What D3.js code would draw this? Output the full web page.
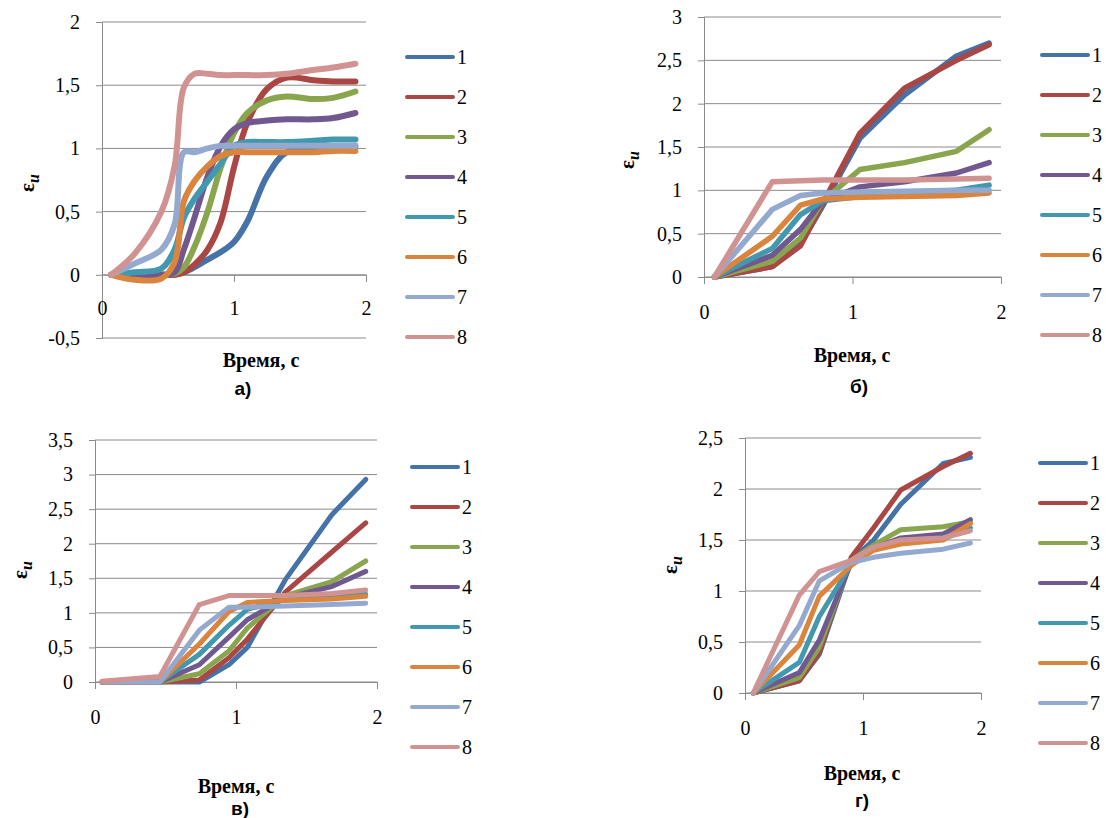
<!DOCTYPE html>
<html>
<head>
<meta charset="utf-8">
<script src="https://cdnjs.cloudflare.com/ajax/libs/d3/7.8.5/d3.min.js"></script>
<style>
body { margin: 0; background: #fff; }
</style>
</head>
<body>
<div id="canvas"></div>
<script>
var w = 1106;
var h = 818;

var seriesNames = ["1", "2", "3", "4", "5", "6", "7", "8"];
var colors = ["#4572a7", "#aa4643", "#89a54e", "#71588f", "#4198af", "#db843d", "#93a9cf", "#d19392"];
var xTicks = [0, 1, 2];

// панель а) - сглаженные линии
var timeA = [0.07, 0.25, 0.45, 0.55, 0.62, 0.7, 0.8, 0.9, 1.0, 1.1, 1.25, 1.4, 1.6, 1.75, 1.92];
var epsA = [
    [0, 0, 0, 0, 0.02, 0.06, 0.12, 0.18, 0.26, 0.42, 0.78, 0.97, 0.99, 1.0, 1.02],
    [0, 0, 0, 0, 0.02, 0.08, 0.2, 0.42, 0.85, 1.2, 1.47, 1.56, 1.54, 1.53, 1.53],
    [0, 0, 0, 0.01, 0.06, 0.22, 0.5, 0.85, 1.12, 1.28, 1.38, 1.41, 1.39, 1.4, 1.45],
    [0, 0, 0, 0.02, 0.2, 0.45, 0.78, 1.02, 1.15, 1.2, 1.22, 1.23, 1.23, 1.24, 1.28],
    [0, 0.02, 0.05, 0.2, 0.45, 0.6, 0.74, 0.88, 1.02, 1.05, 1.05, 1.05, 1.06, 1.07, 1.07],
    [0, -0.04, -0.03, 0.1, 0.58, 0.74, 0.86, 0.94, 0.97, 0.97, 0.97, 0.97, 0.97, 0.98, 0.98],
    [0, 0.09, 0.2, 0.4, 0.97, 0.97, 1.0, 1.02, 1.02, 1.02, 1.02, 1.02, 1.02, 1.02, 1.02],
    [0, 0.17, 0.5, 0.86, 1.48, 1.59, 1.59, 1.58, 1.58, 1.58, 1.58, 1.59, 1.62, 1.64, 1.67]
];
var yTicksA = [-0.5, 0, 0.5, 1, 1.5, 2];

// панель б)
var timeB = [0.07, 0.46, 0.65, 0.8, 1.05, 1.35, 1.7, 1.92];
var epsB = [
    [0, 0.12, 0.38, 0.82, 1.6, 2.1, 2.55, 2.7],
    [0, 0.12, 0.36, 0.85, 1.66, 2.18, 2.5, 2.68],
    [0, 0.18, 0.45, 0.88, 1.24, 1.32, 1.45, 1.7],
    [0, 0.25, 0.55, 0.88, 1.04, 1.1, 1.2, 1.32],
    [0, 0.33, 0.72, 0.88, 0.93, 0.96, 1.0, 1.06],
    [0, 0.47, 0.83, 0.9, 0.92, 0.93, 0.94, 0.97],
    [0, 0.78, 0.94, 0.97, 0.98, 0.99, 1.0, 1.0],
    [0, 1.1, 1.11, 1.12, 1.12, 1.12, 1.13, 1.14]
];
var yTicksB = [0, 0.5, 1, 1.5, 2, 2.5, 3];

// панель в)
var timeC = [0.05, 0.46, 0.74, 0.95, 1.08, 1.35, 1.68, 1.92];
var epsC = [
    [0, 0, 0, 0.25, 0.5, 1.48, 2.42, 2.93],
    [0, 0, 0.03, 0.35, 0.62, 1.3, 1.88, 2.3],
    [0, 0, 0.12, 0.45, 0.78, 1.25, 1.45, 1.75],
    [0, 0, 0.25, 0.65, 0.9, 1.22, 1.38, 1.6],
    [0, 0, 0.4, 0.82, 1.05, 1.2, 1.24, 1.27],
    [0, 0, 0.55, 1.02, 1.15, 1.18, 1.2, 1.24],
    [0, 0, 0.75, 1.08, 1.08, 1.1, 1.12, 1.14],
    [0.01, 0.08, 1.12, 1.25, 1.25, 1.25, 1.28, 1.33]
];
var yTicksC = [0, 0.5, 1, 1.5, 2, 2.5, 3, 3.5];

// панель г)
var timeD = [0.07, 0.46, 0.63, 0.9, 1.09, 1.32, 1.68, 1.91];
var epsD = [
    [0, 0.12, 0.38, 1.3, 1.5, 1.85, 2.25, 2.31],
    [0, 0.12, 0.4, 1.33, 1.62, 1.99, 2.22, 2.35],
    [0, 0.15, 0.45, 1.3, 1.45, 1.6, 1.63, 1.68],
    [0, 0.2, 0.52, 1.28, 1.42, 1.52, 1.56, 1.7],
    [0, 0.3, 0.75, 1.26, 1.42, 1.5, 1.52, 1.62],
    [0, 0.47, 0.95, 1.25, 1.4, 1.46, 1.5, 1.66],
    [0, 0.66, 1.1, 1.28, 1.33, 1.37, 1.41, 1.47],
    [0, 0.96, 1.19, 1.3, 1.43, 1.5, 1.52, 1.59]
];
var yTicksD = [0, 0.5, 1, 1.5, 2, 2.5];

var serif = "'Liberation Serif', 'DejaVu Serif', serif";
var sans = "'Liberation Sans', Arial, sans-serif";
var gridColor = "#8a8a8a";

var svg = d3.select("#canvas").append("svg")
            .attr("width", w)
            .attr("height", h)
            .style("background-color", "white");

function fmt(d) {
    return String(d).replace(".", ",");
}

function drawPanel(p) {
    var g = svg.append("g");
    var x = d3.scaleLinear().domain([0, 2]).range([p.x0, p.x1]);
    var y = d3.scaleLinear()
              .domain([p.yTicks[0], p.yTicks[p.yTicks.length - 1]])
              .range([p.yBot, p.yTop]);

    // горизонтальная сетка
    g.selectAll(".grid").data(p.yTicks).enter().append("line")
        .attr("x1", p.x0)
        .attr("x2", p.x1)
        .attr("y1", d => y(d))
        .attr("y2", d => y(d))
        .attr("stroke", gridColor)
        .attr("stroke-width", 1);

    // ось Y
    var yAxis = g.append("g")
        .attr("transform", `translate(${p.x0},0)`)
        .call(d3.axisLeft(y).tickValues(p.yTicks).tickSize(6).tickPadding(16).tickFormat(fmt));
    yAxis.select(".domain").attr("stroke", gridColor);
    yAxis.selectAll(".tick line").attr("stroke", gridColor);
    yAxis.selectAll("text")
        .style("font-family", serif)
        .style("font-size", "20px")
        .attr("fill", "#000");

    // ось X (проходит через ноль)
    var xAxis = g.append("g")
        .attr("transform", `translate(0,${y(0)})`)
        .call(d3.axisBottom(x).tickValues(xTicks).tickSize(7).tickPadding(p.xPad).tickFormat(fmt));
    xAxis.select(".domain").attr("stroke", gridColor);
    xAxis.selectAll(".tick line").attr("stroke", gridColor);
    xAxis.selectAll("text")
        .style("font-family", serif)
        .style("font-size", "20px")
        .attr("fill", "#000");

    var line = d3.line()
        .x((d, i) => x(p.time[i]))
        .y(d => y(d))
        .curve(p.smooth ? d3.curveCatmullRom : d3.curveLinear);

    p.eps.forEach(function(vals, k) {
        g.append("path")
            .attr("d", line(vals))
            .attr("fill", "none")
            .attr("stroke", colors[k])
            .attr("stroke-width", p.lw)
            .attr("stroke-linejoin", "round")
            .attr("stroke-linecap", "round");
    });

    // легенда
    seriesNames.forEach(function(name, k) {
        var ly = p.legY + k * p.legStep;
        g.append("line")
            .attr("x1", p.legX)
            .attr("x2", p.legX + 46)
            .attr("y1", ly)
            .attr("y2", ly)
            .attr("stroke", colors[k])
            .attr("stroke-width", 4)
            .attr("stroke-linecap", "round");
        g.append("text")
            .attr("x", p.legX + 50)
            .attr("y", ly)
            .attr("dy", "0.35em")
            .style("font-family", serif)
            .style("font-size", "20px")
            .text(name);
    });

    // подписи осей
    var yl = g.append("text")
        .attr("transform", `translate(${p.yLabX},${p.yLabY}) rotate(-90)`)
        .attr("text-anchor", "middle")
        .attr("dy", "0.35em")
        .style("font-family", serif)
        .style("font-size", "21px")
        .style("font-weight", "bold");
    yl.append("tspan").text("ε");
    yl.append("tspan").attr("dy", "5").style("font-size", "16px").style("font-style", "italic").text("и");

    g.append("text")
        .attr("x", p.titleX)
        .attr("y", p.titleY)
        .attr("dy", "0.35em")
        .attr("text-anchor", "middle")
        .style("font-family", serif)
        .style("font-size", "20px")
        .style("font-weight", "bold")
        .text("Время, с");

    g.append("text")
        .attr("x", p.capX)
        .attr("y", p.capY)
        .attr("dy", "0.35em")
        .attr("text-anchor", "middle")
        .style("font-family", sans)
        .style("font-size", "19px")
        .style("font-weight", "bold")
        .text(p.caption);
}

var panels = [
    {time: timeA, eps: epsA, yTicks: yTicksA, smooth: true, lw: 6,
     x0: 102, x1: 366, yTop: 22, yBot: 338, xPad: 19,
     legX: 407, legY: 57, legStep: 40,
     yLabX: 27, yLabY: 183, titleX: 261, titleY: 360, capX: 243, capY: 388, caption: "а)"},
    {time: timeB, eps: epsB, yTicks: yTicksB, smooth: false, lw: 5.5,
     x0: 704, x1: 1001, yTop: 17, yBot: 277, xPad: 21,
     legX: 1042, legY: 55, legStep: 40,
     yLabX: 627, yLabY: 160, titleX: 852, titleY: 355, capX: 859, capY: 386, caption: "б)"},
    {time: timeC, eps: epsC, yTicks: yTicksC, smooth: false, lw: 5,
     x0: 95, x1: 377, yTop: 440, yBot: 682, xPad: 21,
     legX: 412, legY: 467, legStep: 40,
     yLabX: 20, yLabY: 570, titleX: 236, titleY: 786, capX: 240, capY: 808, caption: "в)"},
    {time: timeD, eps: epsD, yTicks: yTicksD, smooth: false, lw: 5,
     x0: 745, x1: 981, yTop: 438, yBot: 693, xPad: 21,
     legX: 1040, legY: 463, legStep: 40,
     yLabX: 670, yLabY: 565, titleX: 862, titleY: 773, capX: 862, capY: 800, caption: "г)"}
];

panels.forEach(drawPanel);
</script>
</body>
</html>
